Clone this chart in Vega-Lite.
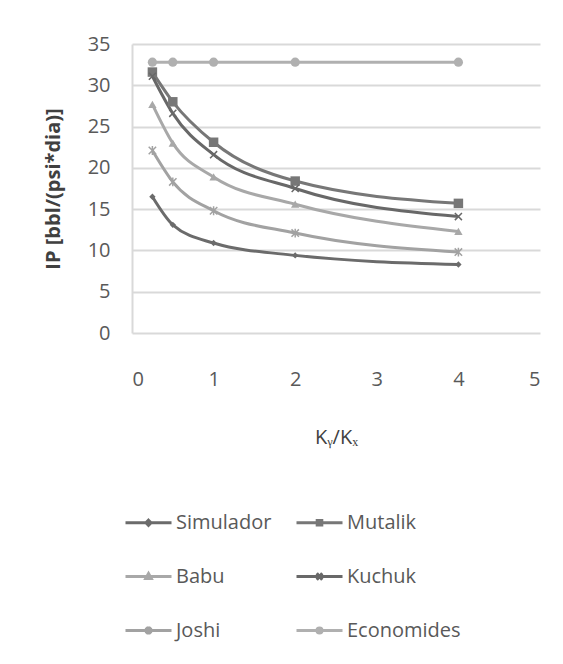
{
  "$schema": "https://vega.github.io/schema/vega-lite/v6.json",
  "width": 408,
  "height": 289,
  "autosize": {"type": "none"},
  "padding": {"left": 132, "top": 44, "right": 23, "bottom": 331},
  "background": "white",
  "config": {"font": "Open Sans", "view": {"stroke": null}},
  "data": {"values": [
    {"series": "Simulador", "x": 0.25, "y": 16.5},
    {"series": "Simulador", "x": 0.5, "y": 13.1},
    {"series": "Simulador", "x": 1, "y": 10.9},
    {"series": "Simulador", "x": 2, "y": 9.4},
    {"series": "Simulador", "x": 4, "y": 8.3},
    {"series": "Mutalik", "x": 0.25, "y": 31.6},
    {"series": "Mutalik", "x": 0.5, "y": 28.0},
    {"series": "Mutalik", "x": 1, "y": 23.1},
    {"series": "Mutalik", "x": 2, "y": 18.4},
    {"series": "Mutalik", "x": 4, "y": 15.7},
    {"series": "Babu", "x": 0.25, "y": 27.7},
    {"series": "Babu", "x": 0.5, "y": 23.0},
    {"series": "Babu", "x": 1, "y": 18.9},
    {"series": "Babu", "x": 2, "y": 15.6},
    {"series": "Babu", "x": 4, "y": 12.3},
    {"series": "Kuchuk", "x": 0.25, "y": 31.1},
    {"series": "Kuchuk", "x": 0.5, "y": 26.6},
    {"series": "Kuchuk", "x": 1, "y": 21.6},
    {"series": "Kuchuk", "x": 2, "y": 17.5},
    {"series": "Kuchuk", "x": 4, "y": 14.1},
    {"series": "Joshi", "x": 0.25, "y": 22.1},
    {"series": "Joshi", "x": 0.5, "y": 18.3},
    {"series": "Joshi", "x": 1, "y": 14.8},
    {"series": "Joshi", "x": 2, "y": 12.1},
    {"series": "Joshi", "x": 4, "y": 9.8},
    {"series": "Economides", "x": 0.25, "y": 32.8},
    {"series": "Economides", "x": 0.5, "y": 32.8},
    {"series": "Economides", "x": 1, "y": 32.8},
    {"series": "Economides", "x": 2, "y": 32.8},
    {"series": "Economides", "x": 4, "y": 32.8}
  ]},
  "encoding": {
    "x": {"field": "x", "type": "quantitative", "scale": {"domain": [0, 5]},
      "axis": {"values": [0, 1, 2, 3, 4, 5], "grid": false, "domain": false, "ticks": false,
        "labelPadding": 36, "labelFontSize": 20, "labelColor": "#595959",
        "title": "Kᵧ/Kₓ", "titleFontSize": 20, "titleFontWeight": "normal", "titleColor": "#404040", "titlePadding": 38}},
    "y": {"field": "y", "type": "quantitative", "scale": {"domain": [0, 35]},
      "axis": {"values": [0, 5, 10, 15, 20, 25, 30, 35], "grid": true, "gridColor": "#d9d9d9", "gridWidth": 2,
        "domain": true, "domainColor": "#d9d9d9", "domainWidth": 2, "ticks": false,
        "labelPadding": 22, "labelFontSize": 20, "labelColor": "#595959",
        "title": "IP [bbl/(psi*dia)]", "titleFontSize": 20, "titleFontWeight": "bold", "titleColor": "#404040", "titlePadding": 24}},
    "color": {"field": "series", "type": "nominal",
      "scale": {"domain": ["Simulador", "Mutalik", "Babu", "Kuchuk", "Joshi", "Economides"],
        "range": ["#6b6b6b", "#777777", "#a8a8a8", "#686868", "#a2a2a2", "#b0b0b0"]},
      "legend": {"orient": "none", "legendX": -8, "legendY": 454, "columns": 2, "direction": "horizontal",
        "title": null, "symbolSize": 2116, "symbolStrokeWidth": 3, "labelFontSize": 20, "labelColor": "#595959",
        "labelOffset": 3, "rowPadding": 19, "columnPadding": 0, "gridAlign": "all", "labelLimit": 200,
        "encode": {"symbols": {"update": {
          "shape": {"signal": "datum.value === 'Simulador' ? 'M-1,0H1M0,-0.11L0.11,0L0,0.11L-0.11,0Z' : datum.value === 'Mutalik' ? 'M-1,0H1M-0.1,-0.1H0.1V0.1H-0.1Z' : datum.value === 'Babu' ? 'M-1,0H1M0,-0.13L0.12,0.09L-0.12,0.09Z' : datum.value === 'Kuchuk' ? 'M-1,0H1M-0.12,-0.14L0.12,0.14M-0.12,0.14L0.12,-0.14' : datum.value === 'Joshi' ? 'M-1,0H1M-0.12,-0.13L0.12,0.13M-0.12,0.13L0.12,-0.13M0,-0.17V0.17' : 'M-1,0H1M0.11,0A0.11,0.11 0 1,1 -0.11,0A0.11,0.11 0 1,1 0.11,0'"},
          "stroke": {"signal": "scale('color', datum.value)"},
          "fill": {"value": "transparent"},
          "strokeWidth": {"value": 3},
          "size": {"value": 2116},
          "opacity": {"value": 1}
        }}}}
    }
  },
  "layer": [
    {"mark": {"type": "line", "interpolate": "monotone", "strokeWidth": 3}},
    {"transform": [{"filter": "datum.series === 'Simulador'"}],
     "mark": {"type": "point", "filled": true, "opacity": 1, "shape": "diamond", "size": 40}},
    {"transform": [{"filter": "datum.series === 'Mutalik'"}],
     "mark": {"type": "point", "filled": true, "opacity": 1, "shape": "square", "size": 90}},
    {"transform": [{"filter": "datum.series === 'Babu'"}],
     "mark": {"type": "point", "filled": true, "opacity": 1, "shape": "triangle-up", "size": 70}},
    {"transform": [{"filter": "datum.series === 'Kuchuk'"}],
     "mark": {"type": "point", "filled": false, "opacity": 1, "shape": "M-1,-1L1,1M-1,1L1,-1", "size": 50, "strokeWidth": 1.5}},
    {"transform": [{"filter": "datum.series === 'Joshi'"}],
     "mark": {"type": "point", "filled": false, "opacity": 1, "shape": "M-1,-1L1,1M-1,1L1,-1M0,-1.2V1.2", "size": 55, "strokeWidth": 1.5}},
    {"transform": [{"filter": "datum.series === 'Economides'"}],
     "mark": {"type": "point", "filled": true, "opacity": 1, "shape": "circle", "size": 85}}
  ]
}
